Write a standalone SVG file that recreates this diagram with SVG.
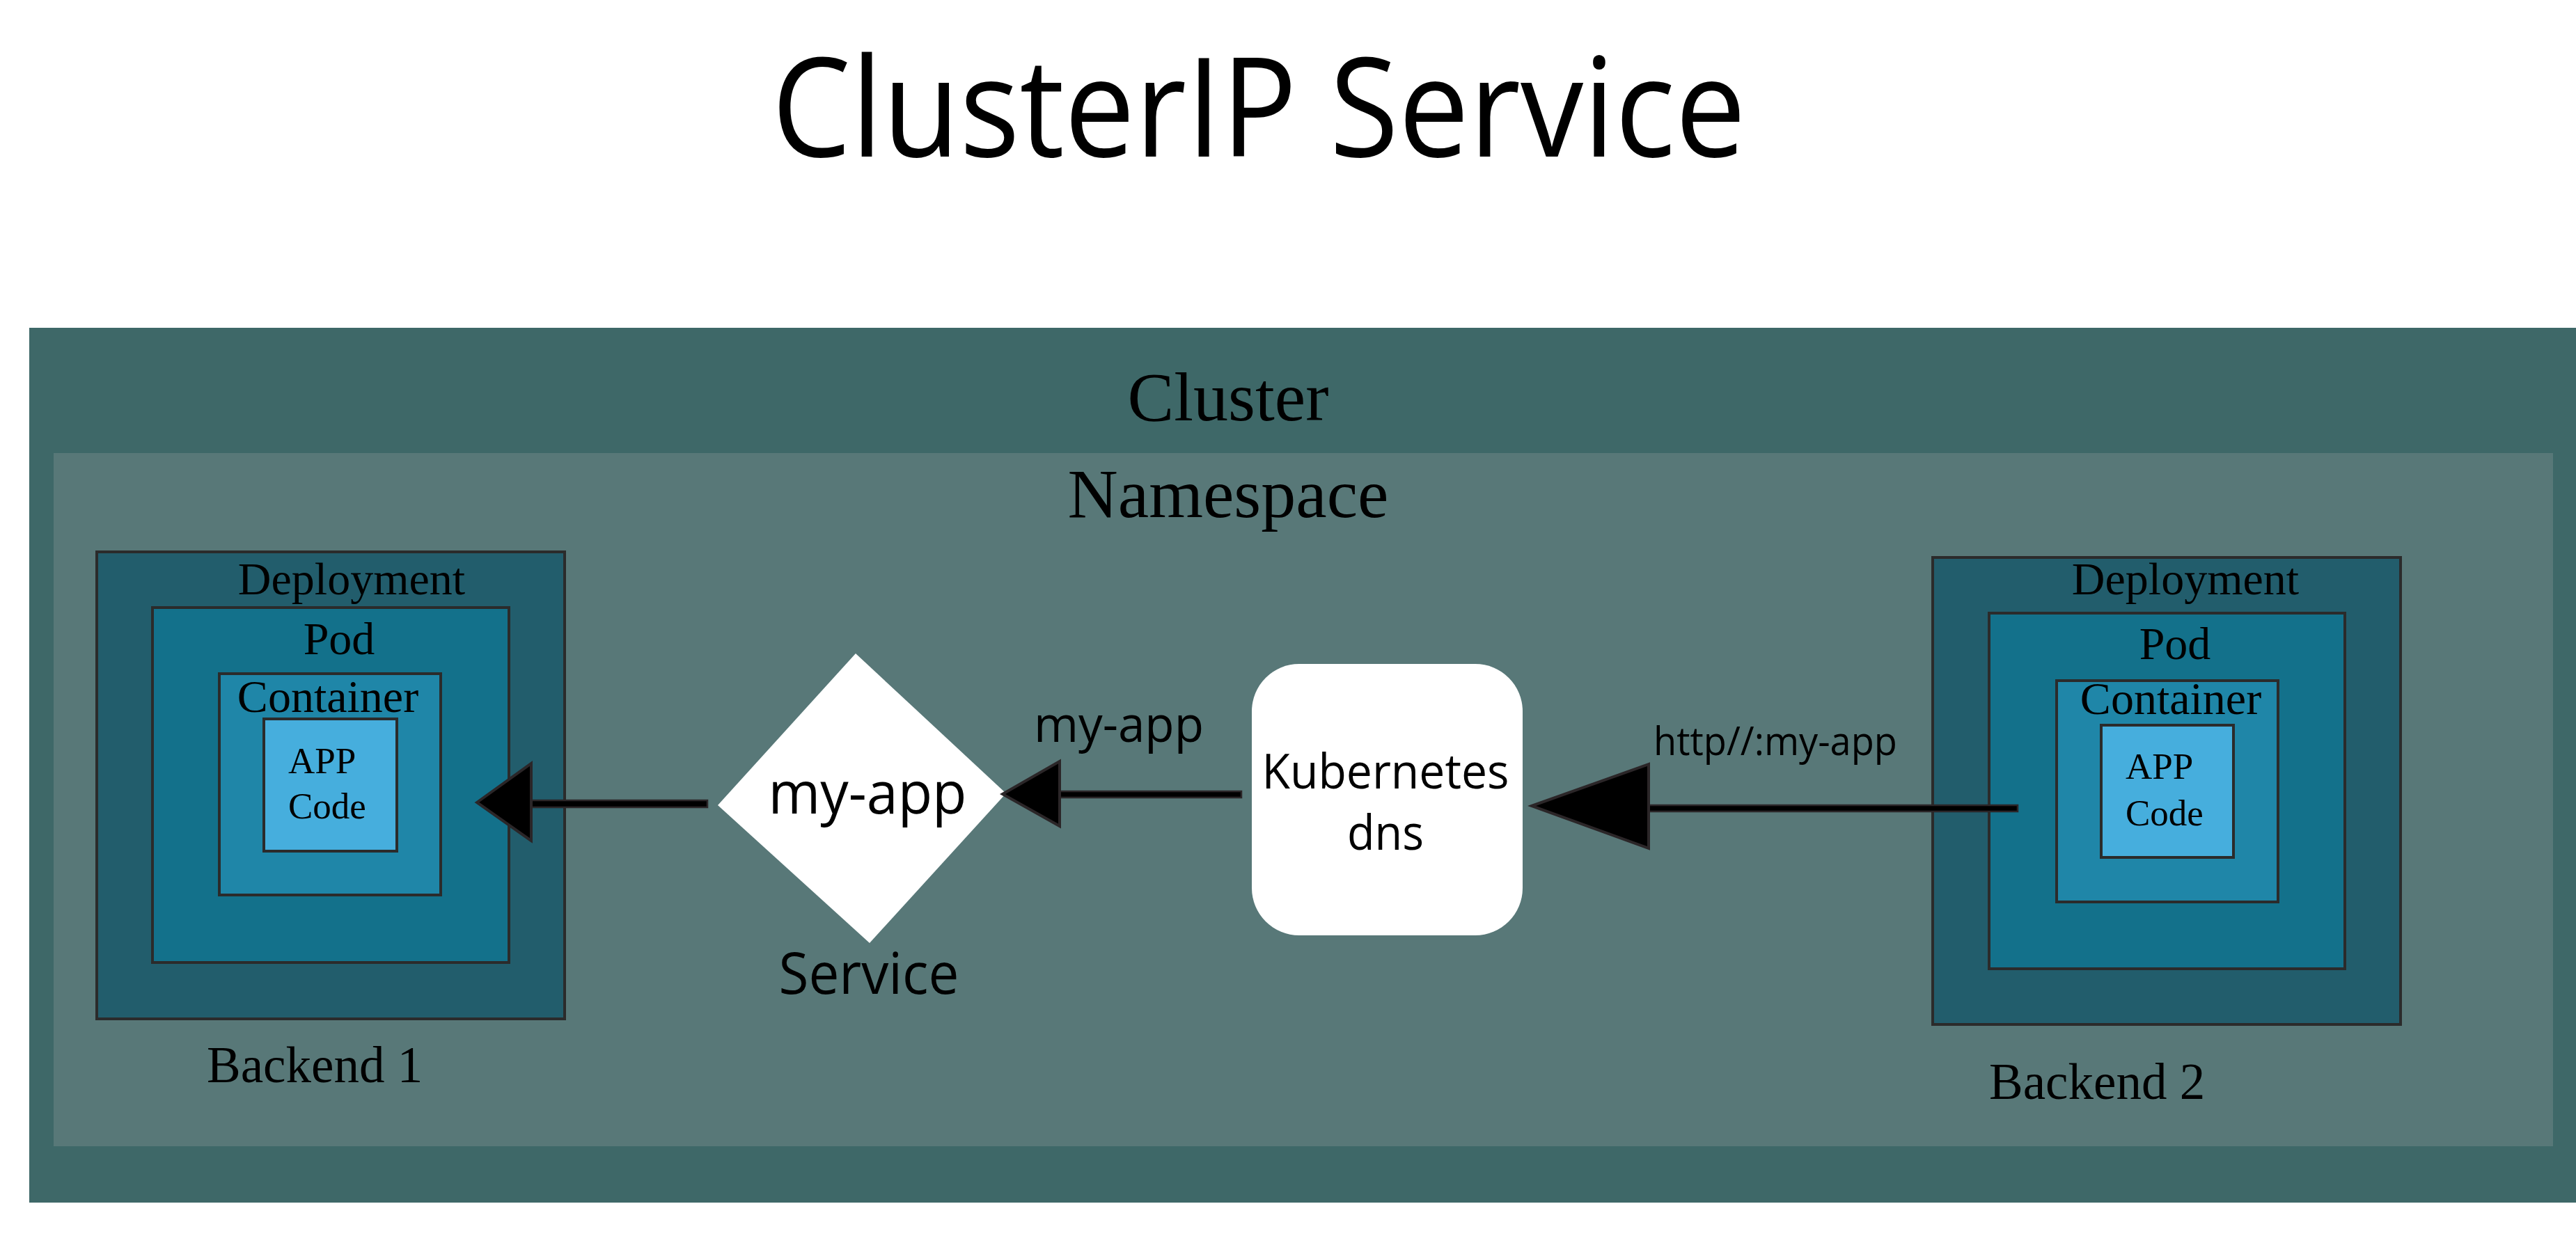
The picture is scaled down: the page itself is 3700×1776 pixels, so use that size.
<svg xmlns="http://www.w3.org/2000/svg" width="3700" height="1776" viewBox="0 0 3700 1776">
<style>
.serif{font-family:"Liberation Serif","Times New Roman",serif;fill:#000}
.sans{font-family:"Open Sans","Noto Sans",sans-serif;fill:#000}
.box{stroke:#2b2b2b;stroke-width:4}
.dep{fill:#225d6c}
.pod{fill:#13718b}
.con{fill:#1f86a8}
.app{fill:#46aedd}
.line{fill:#000;stroke:#2b2628;stroke-width:2.5}
.head{fill:#000;stroke:#2b2628;stroke-width:4;stroke-linejoin:miter}
</style>
<rect width="3700" height="1776" fill="#fff"/>
<text class="sans" x="1808" y="225" font-size="198" text-anchor="middle" textLength="1399" lengthAdjust="spacingAndGlyphs">ClusterIP Service</text>

<g id="cluster">
<rect x="42" y="471" width="3658" height="1257" fill="#3e6868"/>
<text class="serif" x="1764" y="604" font-size="100" text-anchor="middle">Cluster</text>
</g>
<g id="namespace">
<rect x="77" y="651" width="3590" height="996" fill="#587878"/>
<text class="serif" x="1764" y="743" font-size="100" text-anchor="middle">Namespace</text>
</g>

<g id="backend1">
<rect class="box dep" x="139" y="793" width="672" height="671"/>
<text class="serif" x="505" y="854" font-size="66" text-anchor="middle">Deployment</text>
<rect class="box pod" x="219" y="873" width="512" height="510"/>
<text class="serif" x="487" y="940" font-size="66" text-anchor="middle">Pod</text>
<rect class="box con" x="315" y="968" width="318" height="318"/>
<text class="serif" x="471" y="1023" font-size="66" text-anchor="middle">Container</text>
<rect class="box app" x="379" y="1033" width="191" height="190"/>
<text class="serif" x="414" y="1111" font-size="53">APP</text>
<text class="serif" x="414" y="1176" font-size="53">Code</text>
<text class="serif" x="297" y="1555" font-size="73">Backend 1</text>
</g>

<g id="backend2">
<rect class="box dep" x="2776" y="801" width="672" height="671"/>
<text class="serif" x="3139" y="854" font-size="66" text-anchor="middle">Deployment</text>
<rect class="box pod" x="2857" y="881" width="511" height="511"/>
<text class="serif" x="3124" y="947" font-size="66" text-anchor="middle">Pod</text>
<rect class="box con" x="2954" y="978" width="318" height="318"/>
<text class="serif" x="3118" y="1026" font-size="66" text-anchor="middle">Container</text>
<rect class="box app" x="3018" y="1042" width="190" height="190"/>
<text class="serif" x="3053" y="1119" font-size="53">APP</text>
<text class="serif" x="3053" y="1186" font-size="53">Code</text>
<text class="serif" x="2857" y="1579" font-size="73">Backend 2</text>
</g>

<g id="service">
<polygon points="1229,939 1445,1140 1249,1355 1031,1157" fill="#fff"/>
<text class="sans" x="1246" y="1169" font-size="84" text-anchor="middle" textLength="285" lengthAdjust="spacingAndGlyphs">my-app</text>
<text class="sans" x="1248" y="1428" font-size="82" text-anchor="middle" textLength="259" lengthAdjust="spacingAndGlyphs">Service</text>
</g>

<g id="kube-dns">
<rect x="1798" y="954" width="389" height="390" rx="68" ry="68" fill="#fff"/>
<text class="sans" x="1990" y="1133" font-size="70" text-anchor="middle" textLength="355" lengthAdjust="spacingAndGlyphs">Kubernetes</text>
<text class="sans" x="1990" y="1221" font-size="70" text-anchor="middle" textLength="110" lengthAdjust="spacingAndGlyphs">dns</text>
</g>

<g id="connectors">
<rect class="line" x="760" y="1150" width="256" height="10"/>
<polygon class="head" points="685,1153 763,1097 763,1208"/>
<rect class="line" x="1519" y="1137" width="264" height="9"/>
<polygon class="head" points="1440,1141 1522,1094 1522,1187"/>
<text class="sans" x="1607" y="1066" font-size="72" text-anchor="middle" textLength="244" lengthAdjust="spacingAndGlyphs">my-app</text>
<rect class="line" x="2365" y="1157" width="533" height="9"/>
<polygon class="head" points="2200,1158 2368,1098 2368,1219"/>
<text class="sans" x="2550" y="1085" font-size="56" text-anchor="middle" textLength="350" lengthAdjust="spacingAndGlyphs">http//:my-app</text>
</g>
</svg>
